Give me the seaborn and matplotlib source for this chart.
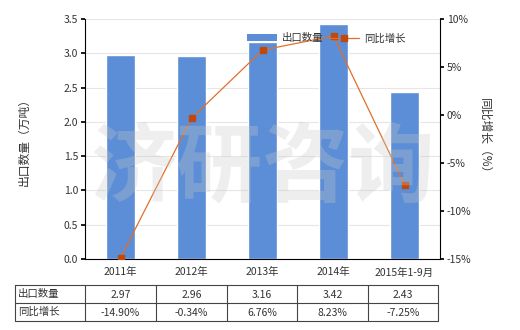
import matplotlib
matplotlib.use("Agg")
import matplotlib.pyplot as plt
import seaborn as sns
import pandas as pd
from matplotlib.lines import Line2D
from matplotlib.patches import Patch

categories = ["2011年", "2012年", "2013年", "2014年", "2015年1-9月"]
export_qty = [2.97, 2.96, 3.16, 3.42, 2.43]
growth = [-14.90, -0.34, 6.76, 8.23, -7.25]
qty_labels = ["2.97", "2.96", "3.16", "3.42", "2.43"]
growth_labels = ["-14.90%", "-0.34%", "6.76%", "8.23%", "-7.25%"]
row_names = ["出口数量", "同比增长"]

sns.set_theme(style="white")
plt.rcParams['font.family'] = ['Noto Sans CJK SC', 'DejaVu Sans']

bar_color = "#5B8ED6"
line_color = "#E0702A"
marker_color = "#C0480A"
text_color = "#333333"

fig = plt.figure(figsize=(5.2, 3.3), dpi=100)
ax = fig.add_axes([85/520, 1-259/330, 355/520, 240/330])

df = pd.DataFrame({"cat": categories, "qty": export_qty})
sns.barplot(data=df, x="cat", y="qty", color=bar_color, saturation=1, width=0.41, ax=ax, zorder=2)
ax.set_ylim(0, 3.5)
ax.set_yticks([0, 0.5, 1.0, 1.5, 2.0, 2.5, 3.0, 3.5])
ax.set_yticklabels(["0.0", "0.5", "1.0", "1.5", "2.0", "2.5", "3.0", "3.5"])
ax.set_xlim(-0.5, 4.5)
ax.yaxis.grid(True, color="#e6e6e6", linewidth=0.8, zorder=0)
ax.set_axisbelow(True)
ax.set_xlabel("")
ax.set_ylabel("出口数量（万吨）", fontsize=8.5, color=text_color, labelpad=24)
for s in ["left", "bottom"]:
    ax.spines[s].set_visible(True)
    ax.spines[s].set_color("black")
    ax.spines[s].set_linewidth(0.8)
ax.spines["top"].set_visible(False)
ax.spines["right"].set_visible(False)
ax.tick_params(axis="y", length=3, color="black", labelsize=7.5, labelcolor=text_color, left=True, pad=2)
ax.tick_params(axis="x", length=0, labelsize=7.5, labelcolor=text_color, pad=6)

ax2 = ax.twinx()
ax2.plot(range(len(categories)), growth, color=line_color, linewidth=0.9,
         marker="s", markersize=4, markerfacecolor=marker_color, markeredgecolor=marker_color, zorder=5)
ax2.set_ylim(-15, 10)
ax2.set_yticks([-15, -10, -5, 0, 5, 10])
ax2.set_yticklabels(["-15%", "-10%", "-5%", "0%", "5%", "10%"])
ax2.tick_params(axis="y", length=3, color="black", labelsize=7.5, labelcolor=text_color, right=True, pad=2)
for s in ["left", "top", "bottom"]:
    ax2.spines[s].set_visible(False)
ax2.spines["right"].set_visible(True)
ax2.spines["right"].set_color("black")
ax2.spines["right"].set_linewidth(0.8)
ax2.grid(False)
ax2.set_ylabel("同比增长（%）", fontsize=8.5, color=text_color, rotation=270, labelpad=14)

# watermark
fig.text(0.505, 0.485, "济研咨询", fontsize=62, color="#c8c8c8", alpha=0.3,
         ha="center", va="center", fontweight="bold", zorder=10)

handles = [Patch(facecolor=bar_color, edgecolor="none"),
           Line2D([0], [0], color=line_color, linewidth=0.9, marker="s", markersize=4,
                  markerfacecolor=marker_color, markeredgecolor=marker_color)]
ax2.legend(handles, ["出口数量", "同比增长"], loc="upper right", bbox_to_anchor=(0.93, 0.98),
           ncol=2, frameon=False, fontsize=7.5, handlelength=2.9, columnspacing=0.5,
           handletextpad=0.5, labelcolor=text_color)

# data table drawn in figure pixel coordinates
W, H = 520, 330
cols = [15, 85, 156, 227, 297, 368, 438]
rows = [285, 303, 321]
for y in rows:
    fig.add_artist(Line2D([cols[0]/W, cols[-1]/W], [1-y/H, 1-y/H], color="#444444", linewidth=0.8))
for x in cols:
    fig.add_artist(Line2D([x/W, x/W], [1-rows[0]/H, 1-rows[-1]/H], color="#444444", linewidth=0.8))
for r, (name, vals) in enumerate(zip(row_names, [qty_labels, growth_labels])):
    yc = 1 - (rows[r] + rows[r+1]) / 2 / H
    fig.text((cols[0] + 3)/W, yc, name, fontsize=7.5, color=text_color, ha="left", va="center")
    for i, v in enumerate(vals):
        xc = (cols[i+1] + cols[i+2]) / 2 / W
        fig.text(xc, yc - 0.004, v, fontsize=7.5, color=text_color, ha="center", va="center")

fig.savefig("out.png", dpi=100)
